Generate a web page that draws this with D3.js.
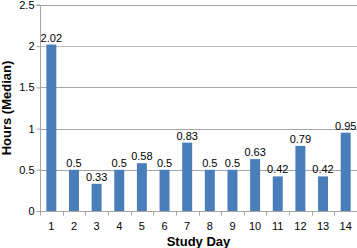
<!DOCTYPE html>
<html><head><meta charset="utf-8">
<script src="https://cdn.jsdelivr.net/npm/d3@7"></script>
<style>body{margin:0;background:#fff}svg{display:block}text{font-family:"Liberation Sans",Arial,sans-serif}</style>
</head><body><svg id="c" width="357" height="248"></svg>
<script>
const days = ["1","2","3","4","5","6","7","8","9","10","11","12","13","14"];
const hours = [2.02,0.5,0.33,0.5,0.58,0.5,0.83,0.5,0.5,0.63,0.42,0.79,0.42,0.95];
const yTicks = [0,0.5,1,1.5,2,2.5];
const yTickLabels = ["0","0.5","1","1.5","2","2.5"];

const svg = d3.select("#c");
const m = {l:40, r:0, t:5, b:37};
const W = 357, H = 248;
const x = d3.scaleBand().domain(days).range([m.l, W - m.r]).paddingInner(0.56).paddingOuter(0.28);
const y = d3.scaleLinear().domain([0,2.5]).range([H - m.b, m.t]);

// gridlines
svg.append("g").selectAll("line").data(yTicks.filter(d=>d>0)).join("line")
  .attr("x1", m.l).attr("x2", W - m.r)
  .attr("y1", d=>Math.round(y(d))+0.5).attr("y2", d=>Math.round(y(d))+0.5)
  .attr("stroke", d=> d===2 ? "#bdbdbd" : "#a6a6a6").attr("stroke-width",1);

// bars
svg.append("g").selectAll("rect").data(hours).join("rect")
  .attr("x",(d,i)=>x(days[i])).attr("width",x.bandwidth())
  .attr("y",d=>y(d)).attr("height",d=>y(0)-y(d))
  .attr("fill","#4a7ebb");

// value labels
svg.append("g").selectAll("text").data(hours).join("text")
  .attr("x",(d,i)=>x(days[i])+x.bandwidth()/2).attr("y",d=>y(d)-3)
  .attr("text-anchor","middle").attr("font-size",11).attr("fill","#000")
  .text(d=>String(d));

// y axis
const ya = d3.axisLeft(y).tickValues(yTicks).tickFormat((d,i)=>yTickLabels[i]).tickSize(4).tickPadding(2);
const gy = svg.append("g").attr("transform",`translate(${m.l+0.5},0)`).call(ya);
gy.select(".domain").attr("stroke","#a6a6a6").attr("d",`M-4,${y(2.5)}H0V${y(0)}`);
gy.selectAll(".tick line").attr("stroke","#a6a6a6");
gy.selectAll(".tick text").attr("font-size",11).attr("fill","#000").style("font-family","Liberation Sans, Arial, sans-serif");

// x axis
const gx = svg.append("g").attr("transform",`translate(0,${Math.round(y(0))+0.5})`);
gx.append("line").attr("x1",m.l).attr("x2",W-m.r).attr("stroke","#a6a6a6");
const step = x.step();
const bounds = d3.range(days.length+1).map(i=>m.l + i*(W-m.r-m.l)/days.length);
gx.selectAll(".tk").data(bounds).join("line").attr("class","tk")
  .attr("x1",d=>Math.round(d)+0.5).attr("x2",d=>Math.round(d)+0.5).attr("y1",0).attr("y2",4).attr("stroke","#a6a6a6");
gx.selectAll(".lb").data(days).join("text").attr("class","lb")
  .attr("x",d=>x(d)+x.bandwidth()/2).attr("y",18).attr("text-anchor","middle")
  .attr("font-size",11).attr("fill","#000").text(d=>d);

// axis titles
svg.append("text").attr("x",(m.l+W-m.r)/2).attr("y",246).attr("text-anchor","middle")
  .attr("font-size",13).attr("font-weight","bold").text("Study Day");
svg.append("text").attr("transform",`translate(11,${(y(0)+y(2.5))/2}) rotate(-90)`)
  .attr("text-anchor","middle").attr("font-size",13).attr("font-weight","bold").text("Hours (Median)");
</script></body></html>
